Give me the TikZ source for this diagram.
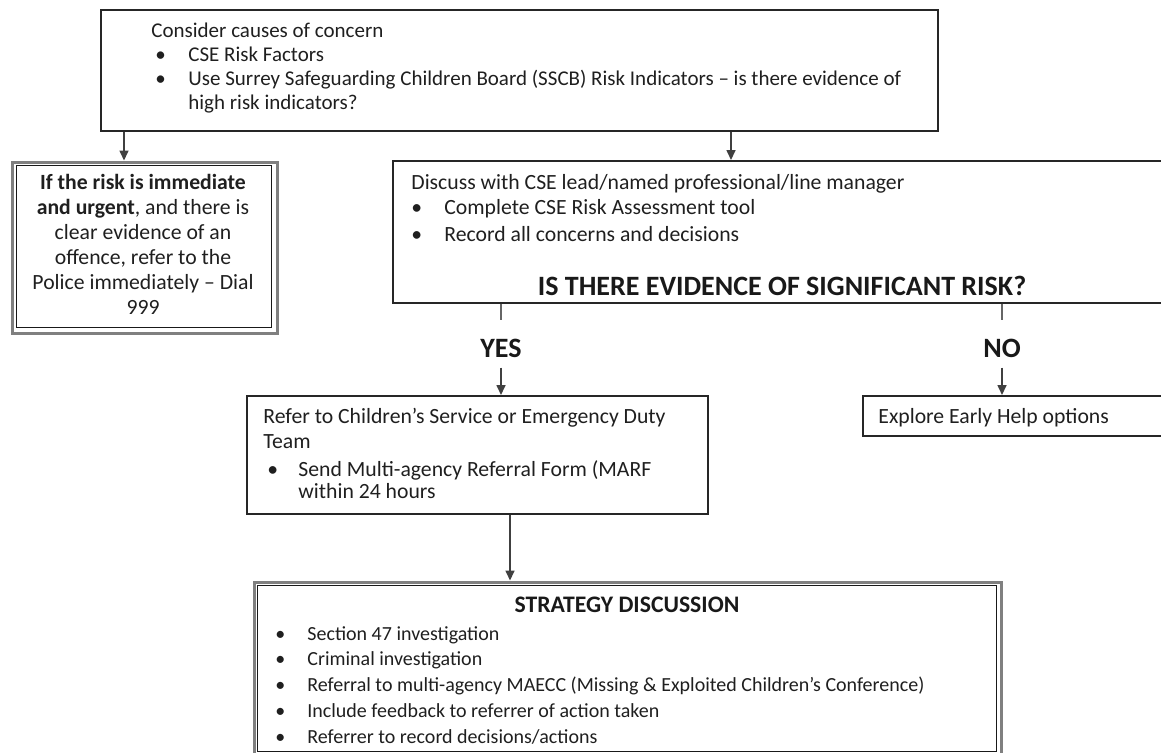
\documentclass[tikz,border=0pt]{standalone}
\usepackage{fontspec}
\setmainfont{Carlito}
\usetikzlibrary{arrows.meta,calc}
\begin{document}
\begin{tikzpicture}[x=0.5pt,y=-0.5pt,
  box/.style={draw=black!85, line width=0.75pt, inner sep=0pt, anchor=north west},
  obox/.style={draw=black!50, line width=1.5pt, inner sep=0pt, anchor=north west},
  ibox/.style={draw=black!90, line width=0.6pt, inner sep=0pt, anchor=north west},
  txt/.style={inner sep=0pt, anchor=base west, font=\fontsize{10.85}{13}\selectfont, text=black!88},
  stxt/.style={txt, font=\fontsize{10.5}{13}\selectfont},
  btxt/.style={txt, font=\fontsize{10}{12}\selectfont},
  ctxt/.style={txt, anchor=base},
  big/.style={inner sep=0pt, anchor=base, font=\fontsize{14}{16}\selectfont\bfseries, text=black!90},
  ttl/.style={inner sep=0pt, anchor=base, font=\fontsize{11.85}{14}\selectfont\bfseries, text=black!90},
  arr/.style={draw=black!75, line width=0.8pt, -{Triangle[length=5pt,width=4.5pt]}},
  ln/.style={draw=black!60, line width=0.9pt},
]
\useasboundingbox (0,0) rectangle (1161,752);
\clip (0,0) rectangle (1161,752);

% ---------- top box ----------
\node[box, minimum width=418.5pt, minimum height=60.5pt] (top) at (100,9) {};
\node[stxt] (t1) at (151,37) {Consider causes of concern};
\node[stxt] (b1) at (155,61) {•};
\node[stxt] (t2) at (188,61) {CSE Risk Factors};
\node[stxt] (b2) at (155,85) {•};
\node[stxt] (t3) at (188,85) {Use Surrey Safeguarding Children Board (SSCB) Risk Indicators – is there evidence of};
\node[stxt] (t4) at (188,109) {high risk indicators?};

% ---------- left (police) box ----------
\node[obox, minimum width=132.5pt, minimum height=85.5pt] (risk) at (10.5,160.5) {};
\node[ibox, minimum width=127.75pt, minimum height=81pt] (riskin) at (15.5,165) {};
\node[ctxt] (r1) at (143,189) {\bfseries If the risk is immediate};
\node[ctxt] (r2) at (143,214) {\textbf{and urgent}, and there is};
\node[ctxt] (r3) at (143,239) {clear evidence of an};
\node[ctxt] (r4) at (143,264) {offence, refer to the};
\node[ctxt] (r5) at (143,289) {Police immediately – Dial};
\node[ctxt] (r6) at (143,314) {999};

% ---------- discuss box ----------
\node[box, minimum width=387pt, minimum height=71pt] (disc) at (392,160) {};
\node[txt] (d1) at (411,189) {Discuss with CSE lead/named professional/line manager};
\node[txt] (db1) at (411,214) {•};
\node[txt] (d2) at (444,214) {Complete CSE Risk Assessment tool};
\node[txt] (db2) at (411,241) {•};
\node[txt] (d3) at (444,241) {Record all concerns and decisions};
\node[big] (q) at (782,295) {IS THERE EVIDENCE OF SIGNIFICANT RISK?};

% ---------- yes / no ----------
\node[big] (yes) at (501,357) {YES};
\node[big] (no) at (1002,357) {NO};

% ---------- refer box ----------
\node[box, minimum width=230.5pt, minimum height=59pt] (refer) at (246,395) {};
\node[txt] (f1) at (263,423) {Refer to Children’s Service or Emergency Duty};
\node[txt] (f2) at (263,448) {Team};
\node[txt] (fb) at (267,476) {•};
\node[txt] (f3) at (298,476) {Send Multi-agency Referral Form (MARF};
\node[txt] (f4) at (298,498) {within 24 hours};

% ---------- explore box ----------
\node[box, minimum width=152pt, minimum height=20pt] (expl) at (862,395) {};
\node[txt] (e1) at (878,423) {Explore Early Help options};

% ---------- strategy box ----------
\node[obox, minimum width=373.75pt, minimum height=87.75pt] (strat) at (252.5,580.5) {};
\node[ibox, minimum width=369.5pt, minimum height=83pt] (stratin) at (257,585) {};
\node[ttl] (s0) at (627,612) {STRATEGY DISCUSSION};
\node[btxt] (sb1) at (275,640) {•};
\node[btxt] (s1) at (307,640) {Section 47 investigation};
\node[btxt] (sb2) at (275,665) {•};
\node[btxt] (s2) at (307,665) {Criminal investigation};
\node[btxt] (sb3) at (275,691) {•};
\node[btxt] (s3) at (307,691) {Referral to multi-agency MAECC (Missing \& Exploited Children’s Conference)};
\node[btxt] (sb4) at (275,717) {•};
\node[btxt] (s4) at (307,717) {Include feedback to referrer of action taken};
\node[btxt] (sb5) at (275,743) {•};
\node[btxt] (s5) at (307,743) {Referrer to record decisions/actions};

% ---------- connectors ----------
\draw[arr] ([xshift=12pt]top.south west) -- ([xshift=12pt]top.south west |- risk.north);
\draw[arr] ([xshift=315.5pt]top.south west) -- ([xshift=315.5pt]top.south west |- disc.north);
\draw[ln] (yes.north |- disc.south) -- ([yshift=9pt]yes.north);
\draw[ln] (no.north |- disc.south) -- ([yshift=9pt]no.north);
\draw[arr] ([yshift=-5pt]yes.south) -- (yes.south |- refer.north);
\draw[arr] ([yshift=-5pt]no.south) -- (no.south |- expl.north);
\draw[arr] ([xshift=132pt]refer.south west) -- ([xshift=132pt]refer.south west |- strat.north);
\end{tikzpicture}
\end{document}
